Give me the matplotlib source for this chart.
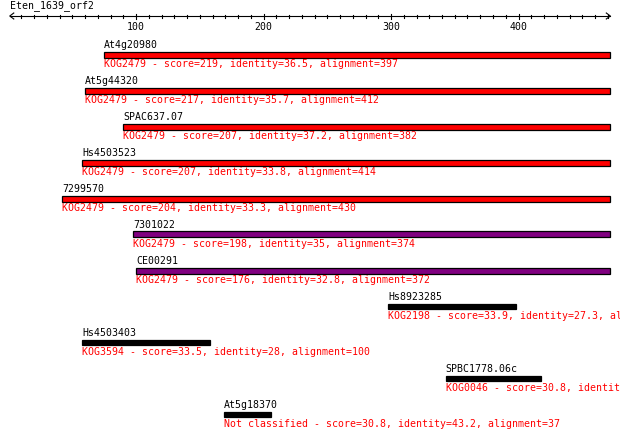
import matplotlib
matplotlib.use("Agg")
import matplotlib.pyplot as plt

# query sequence
query_name = "Eten_1639_orf2"
query_len = 472

# hits, top to bottom
hit_names = ["At4g20980", "At5g44320", "SPAC637.07", "Hs4503523", "7299570",
             "7301022", "CE00291", "Hs8923285", "Hs4503403", "SPBC1778.06c",
             "At5g18370"]
hit_starts = [75, 60, 90, 58, 42, 98, 100, 298, 58, 343, 169]
hit_kogs = ["KOG2479", "KOG2479", "KOG2479", "KOG2479", "KOG2479",
            "KOG2479", "KOG2479", "KOG2198", "KOG3594", "KOG0046",
            "Not classified"]
hit_scores = ["219", "217", "207", "207", "204", "198", "176", "33.9", "33.5", "30.8", "30.8"]
hit_identity = ["36.5", "35.7", "37.2", "33.8", "33.3", "35", "32.8", "27.3", "28", "30.7", "43.2"]
hit_align = [397, 412, 382, 414, 430, 374, 372, 100, 100, 75, 37]
hit_colors = ["#ff0000"] * 5 + ["#800080"] * 2 + ["#000000"] * 4

# pixel helpers: 1.275 px per residue, 36 px per row
PX_X = 1 / 1.275
PX_Y = 1 / 36.0

fig = plt.figure(figsize=(6.2, 4.37), dpi=100)
ax = fig.add_axes([0, 0, 1, 1])
ax.set_xlim(-8.5 * PX_X, (620 - 8.5) * PX_X)
ax.set_ylim((437 - 54.5) * PX_Y, -54.5 * PX_Y)
ax.axis("off")

font = dict(family="DejaVu Sans Mono", fontsize=7.1)

# ruler
ry = (16 - 54.5) * PX_Y
ax.plot([1, query_len], [ry, ry], color="black", lw=0.8)
for t in range(10, query_len, 10):
    h = 2.5 if t % 100 == 0 else 1.5
    ax.plot([t, t], [ry - h * PX_Y, ry + h * PX_Y], color="black", lw=0.8)
    if t % 100 == 0:
        ax.text(t, ry + 11 * PX_Y, str(t), ha="center", va="center", **font)
# arrow heads
for tip, d in [(1, 1), (query_len, -1)]:
    ax.plot([tip + d * 4 * PX_X, tip, tip + d * 4 * PX_X],
            [ry - 3 * PX_Y, ry, ry + 3 * PX_Y], color="black", lw=0.8)
ax.text(1, (6 - 54.5) * PX_Y, query_name, ha="left", va="center", **font)

# hits
for i, name in enumerate(hit_names):
    h = 6 if hit_colors[i] != "#000000" else 5
    ax.barh(i, hit_align[i], left=hit_starts[i], height=h * PX_Y,
            color=hit_colors[i], edgecolor="black", linewidth=0.9)
    ax.text(hit_starts[i], i - 9.5 * PX_Y, name, ha="left", va="center",
            color="black", **font)
    label = f"{hit_kogs[i]} - score={hit_scores[i]}, identity={hit_identity[i]}, alignment={hit_align[i]}"
    ax.text(hit_starts[i], i + 9.5 * PX_Y, label, ha="left", va="center",
            color="#ff0000", clip_on=True, **font)

fig.savefig("out.png", dpi=100)
